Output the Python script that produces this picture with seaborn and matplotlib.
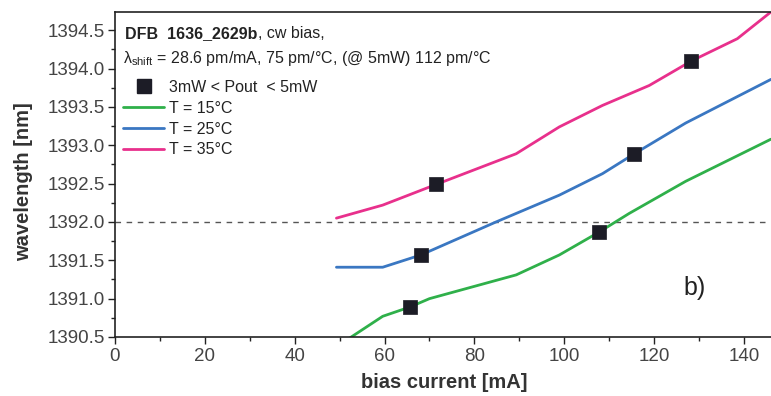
import matplotlib
matplotlib.use("Agg")
import matplotlib.pyplot as plt
import seaborn as sns
import pandas as pd
from matplotlib.lines import Line2D
from matplotlib.ticker import MultipleLocator, FormatStrFormatter

# ---- data ----
t15_x = [50, 52.6, 59.6, 65.6, 70, 89.3, 98.9, 107.8, 114.4, 127, 146]
t15_y = [1390.4, 1390.5, 1390.77, 1390.89, 1391.0, 1391.31, 1391.57, 1391.87, 1392.11, 1392.53, 1393.08]
t25_x = [49.3, 59.6, 68.1, 84.8, 98.9, 108.5, 115.6, 127.0, 146]
t25_y = [1391.41, 1391.41, 1391.57, 1392.0, 1392.35, 1392.63, 1392.89, 1393.29, 1393.86]
t35_x = [49.3, 59.6, 71.5, 89.3, 98.9, 108.5, 118.9, 128.3, 138.5, 146]
t35_y = [1392.05, 1392.22, 1392.49, 1392.89, 1393.24, 1393.52, 1393.78, 1394.10, 1394.39, 1394.74]
mark_x = [65.6, 68.1, 71.5, 107.8, 115.6, 128.3]
mark_y = [1390.89, 1391.57, 1392.49, 1391.87, 1392.89, 1394.10]
labels = ["T = 15°C", "T = 25°C", "T = 35°C"]
colors = ["#2fb04a", "#3a77c2", "#e8308c"]
ref_level = 1392.0

sns.set_style("ticks")
plt.rcParams["font.family"] = ["Liberation Sans", "DejaVu Sans"]
plt.rcParams["mathtext.fontset"] = "custom"
plt.rcParams["mathtext.rm"] = "Liberation Sans"
plt.rcParams["mathtext.it"] = "Liberation Sans"
plt.rcParams["mathtext.bf"] = "Liberation Sans:bold"

rows = []
for lab, xs, ys in zip(labels, [t15_x, t25_x, t35_x], [t15_y, t25_y, t35_y]):
    for x, y in zip(xs, ys):
        rows.append({"I": x, "wl": y, "T": lab})
df = pd.DataFrame(rows)
dm = pd.DataFrame({"I": mark_x, "wl": mark_y})

fig = plt.figure(figsize=(7.71, 3.96), dpi=100)
ax = fig.add_axes([0.149, 0.149, 0.851, 0.821])

ax.axhline(ref_level, color="#555555", lw=1.0, ls=(0, (4, 4)), zorder=1)
sns.lineplot(data=df, x="I", y="wl", hue="T", palette=colors, lw=2.0,
             sort=False, ax=ax, legend=False, zorder=2)
sns.scatterplot(data=dm, x="I", y="wl", marker="s", s=90, color="#1c1c26",
                edgecolor="#1c1c26", linewidth=0.5, ax=ax, zorder=3, legend=False)

ax.set_xlim(0, 146)
ax.set_ylim(1390.5, 1394.74)
ax.xaxis.set_major_locator(MultipleLocator(20))
ax.xaxis.set_minor_locator(MultipleLocator(10))
ax.yaxis.set_major_locator(MultipleLocator(0.5))
ax.yaxis.set_minor_locator(MultipleLocator(0.25))
ax.yaxis.set_major_formatter(FormatStrFormatter("%.1f"))
ax.tick_params(axis="both", which="major", direction="out", length=5, width=1,
               labelsize=13.5, labelcolor="#444444", color="#222222")
ax.tick_params(axis="both", which="minor", direction="out", length=3, width=1, color="#222222")
ax.tick_params(axis="y", pad=2)
ax.tick_params(axis="x", pad=3)
for side in ["left", "bottom", "top"]:
    ax.spines[side].set_visible(True)
    ax.spines[side].set_color("#222222")
    ax.spines[side].set_linewidth(1.2)
ax.spines["right"].set_visible(False)

ax.set_xlabel("bias current [mA]", fontsize=14.5, fontweight="bold", color="#333333")
ax.set_ylabel("wavelength [nm]", fontsize=14.5, fontweight="bold", color="#333333")
ax.xaxis.set_label_coords(0.502, -0.112)
ax.yaxis.set_label_coords(-0.125, 0.477)

# annotation text
fs = 11.5
t1 = ax.text(0.016, 0.932, "DFB  1636_2629b", transform=ax.transAxes, fontsize=fs,
             fontweight="bold", color="#222222", va="center", ha="left")
fig.canvas.draw()
bb = t1.get_window_extent(renderer=fig.canvas.get_renderer())
x_end = ax.transAxes.inverted().transform((bb.x1, bb.y0))[0]
ax.text(x_end, 0.932, ", cw bias,", transform=ax.transAxes, fontsize=fs,
        color="#222222", va="center", ha="left")
ax.text(0.012, 0.858, r"$\lambda_{\rm shift}$ = 28.6 pm/mA, 75 pm/°C, (@ 5mW) 112 pm/°C",
        transform=ax.transAxes, fontsize=fs, color="#222222", va="center", ha="left")

handles = [Line2D([], [], marker="s", ls="none", color="#1c1c26", markersize=10)]
handles += [Line2D([], [], color=c, lw=2.0) for c in colors]
leg = ax.legend(handles, ["3mW < Pout  < 5mW"] + labels, loc="upper left",
                bbox_to_anchor=(0.0, 0.815), frameon=False, fontsize=fs,
                handlelength=2.6, handletextpad=0.3, labelspacing=0.36,
                borderaxespad=0.3, borderpad=0.2)
for t in leg.get_texts():
    t.set_color("#222222")

ax.text(0.883, 0.15, "b)", transform=ax.transAxes, fontsize=18, color="#222222",
        va="center", ha="center")

fig.savefig("out.png", dpi=100)
